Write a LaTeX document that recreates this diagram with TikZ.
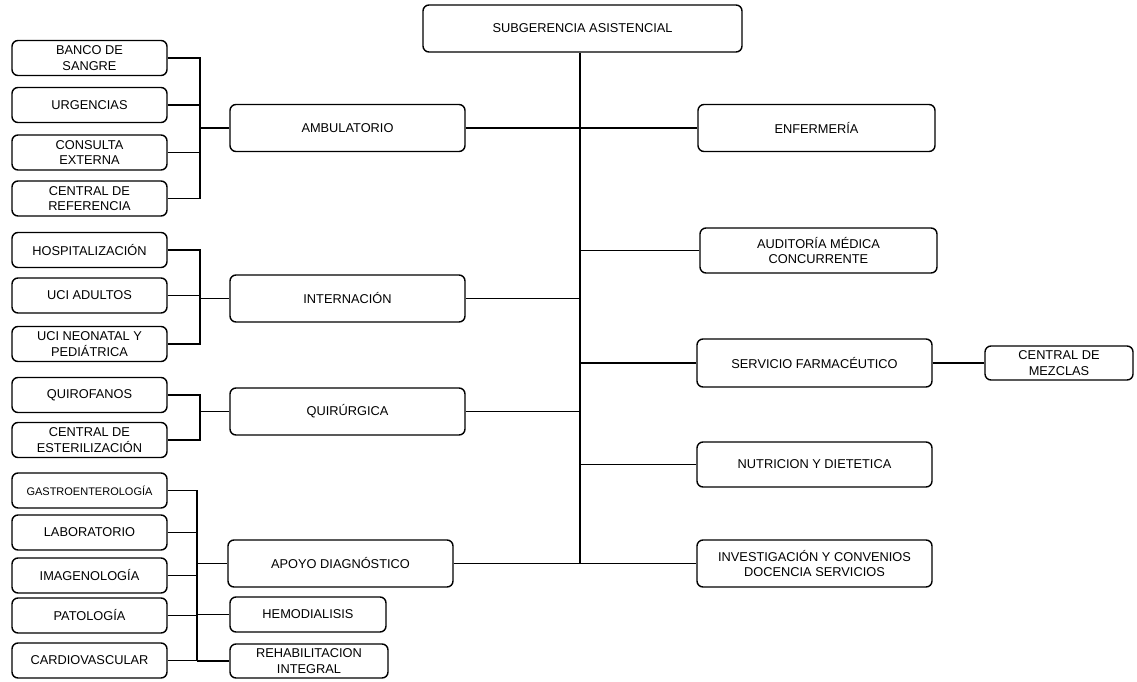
\documentclass[tikz,border=0pt]{standalone}
\usepackage{fontspec}
\setmainfont{Liberation Sans}
\begin{document}
\begin{tikzpicture}[x=1pt,y=-1pt,
  box/.style={draw, rounded corners=6pt, line width=1.4pt, align=center,
    font=\fontsize{12.8}{15.5}\selectfont, inner sep=1pt},
  big/.style={box, minimum width=235pt, minimum height=47pt},
  small/.style={box, minimum width=155pt, minimum height=35pt},
  conn/.style={line width=1.4pt},
  brk/.style={line width=1.9pt},
  trunk/.style={line width=2.8pt}]
\useasboundingbox (0,0) rectangle (1137,682);
% top
\node[box, minimum width=319pt, minimum height=47pt] (top) at (582.5,28.5) {SUBGERENCIA ASISTENCIAL};
% left main
\node[big] (amb) at (347.5,128) {AMBULATORIO};
\node[big] (intern) at (347.5,298.5) {INTERNACIÓN};
\node[big] (quir) at (347.5,411.5) {QUIRÚRGICA};
\node[box, minimum width=225pt, minimum height=47pt] (apoyo) at (340.5,563.5) {APOYO DIAGNÓSTICO};
\node[box, minimum width=156pt, minimum height=35pt] (hemo) at (308,614.5) {HEMODIALISIS};
\node[box, minimum width=158pt, minimum height=34pt] (rehab) at (309,661) {REHABILITACION\\INTEGRAL};
% left column
\node[small] (banco) at (89.5,58) {BANCO DE\\SANGRE};
\node[small] (urg) at (89.5,105) {URGENCIAS};
\node[small] (cons) at (89.5,152.5) {CONSULTA\\EXTERNA};
\node[small] (cref) at (89.5,198.5) {CENTRAL DE\\REFERENCIA};
\node[small] (hosp) at (89.5,250) {HOSPITALIZACIÓN};
\node[small] (uci) at (89.5,295.5) {UCI ADULTOS};
\node[small] (neo) at (89.5,344) {UCI NEONATAL Y\\PEDIÁTRICA};
\node[small] (quiro) at (89.5,395) {QUIROFANOS};
\node[small] (ester) at (89.5,440) {CENTRAL DE\\ESTERILIZACIÓN};
\node[small, font=\fontsize{11}{13}\selectfont] (gastro) at (89.5,490.5) {GASTROENTEROLOGÍA};
\node[small] (lab) at (89.5,532.5) {LABORATORIO};
\node[small] (imag) at (89.5,575.5) {IMAGENOLOGÍA};
\node[small] (pato) at (89.5,615.5) {PATOLOGÍA};
\node[small] (cardio) at (89.5,660.5) {CARDIOVASCULAR};
% right
\node[box, minimum width=237pt, minimum height=47pt] (enf) at (816.5,128) {ENFERMERÍA};
\node[box, minimum width=237pt, minimum height=45pt] (aud) at (818.5,250.5) {AUDITORÍA MÉDICA\\CONCURRENTE};
\node[box, minimum width=235pt, minimum height=48pt] (serv) at (814.5,363) {SERVICIO FARMACÉUTICO};
\node[box, minimum width=148pt, minimum height=34pt] (mez) at (1059,363) {CENTRAL DE\\MEZCLAS};
\node[big, minimum height=45pt] (nutri) at (814.5,464.5) {NUTRICION Y DIETETICA};
\node[big] (inv) at (814.5,563.5) {INVESTIGACIÓN Y CONVENIOS\\DOCENCIA SERVICIOS};
% trunk
\coordinate (tb) at (580,563.5);
\draw[trunk] (top.south -| tb) -- (tb);
\draw[conn] (amb.east) -- (enf.west);
\draw[conn] (aud.west) -- (aud.west -| tb);
\draw[conn] (intern.east) -- (intern.east -| tb);
\draw[conn] (serv.west) -- (serv.west -| tb);
\draw[conn] (quir.east) -- (quir.east -| tb);
\draw[conn] (nutri.west) -- (nutri.west -| tb);
\draw[conn] (apoyo.east) -- (inv.west);
\draw[conn] (serv.east) -- (mez.west);
% bracket ambulatorio
\coordinate (b1) at (200,128);
\draw[brk] (banco.east) -- (banco.east -| b1) -- (cref.east -| b1) -- (cref.east);
\draw[conn] (urg.east) -- (urg.east -| b1);
\draw[conn] (cons.east) -- (cons.east -| b1);
\draw[conn] (b1) -- (amb.west);
% bracket internacion
\coordinate (b2) at (200,298.5);
\draw[brk] (hosp.east) -- (hosp.east -| b2) -- (neo.east -| b2) -- (neo.east);
\draw[conn] (uci.east) -- (uci.east -| b2);
\draw[conn] (b2) -- (intern.west);
% bracket quirurgica
\coordinate (b3) at (200,411.5);
\draw[brk] (quiro.east) -- (quiro.east -| b3) -- (ester.east -| b3) -- (ester.east);
\draw[conn] (b3) -- (quir.west);
% bracket apoyo
\coordinate (b4) at (197,563.5);
\draw[brk] (gastro.east) -- (gastro.east -| b4) -- (cardio.east -| b4) -- (cardio.east);
\draw[conn] (lab.east) -- (lab.east -| b4);
\draw[conn] (imag.east) -- (imag.east -| b4);
\draw[conn] (pato.east) -- (pato.east -| b4);
\draw[conn] (b4) -- (apoyo.west);
\draw[conn] (hemo.west -| b4) -- (hemo.west);
\draw[conn] (rehab.west -| b4) -- (rehab.west);
\end{tikzpicture}
\end{document}
